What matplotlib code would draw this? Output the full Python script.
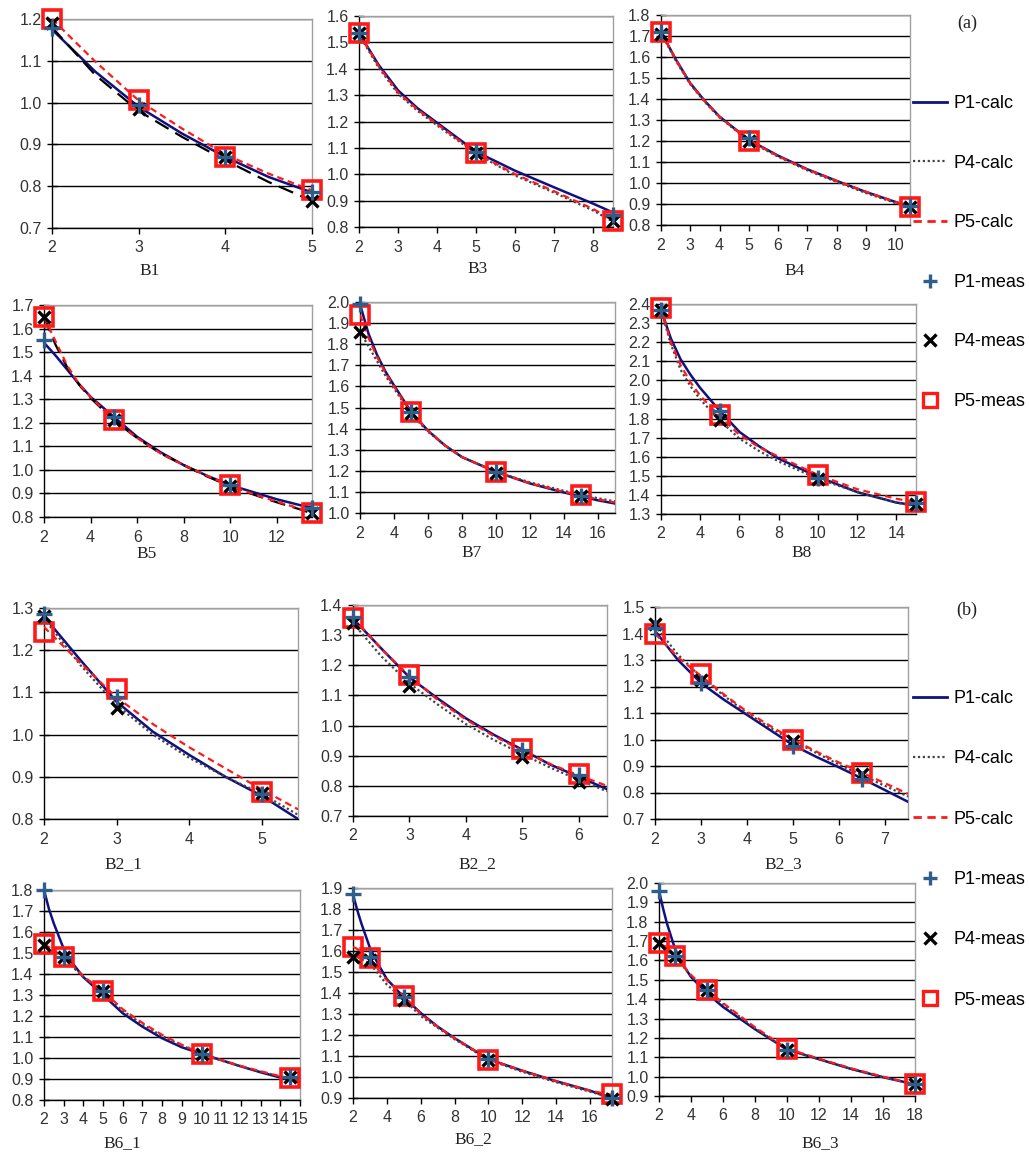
import matplotlib
matplotlib.use("Agg")
import matplotlib.pyplot as plt
from matplotlib.ticker import FormatStrFormatter
from matplotlib.lines import Line2D

# ---------------- data ----------------
# B1
B1_x_meas = [2, 3, 4, 5]
B1_P1_meas = [1.178, 0.995, 0.870, 0.785]
B1_P4_meas = [1.190, 0.985, 0.870, 0.765]
B1_P5_meas = [1.199, 1.006, 0.870, 0.792]
B1_x_calc = [2, 2.5, 3, 3.5, 4, 4.5, 5]
B1_P1_calc = [1.175, 1.074, 0.990, 0.926, 0.870, 0.822, 0.785]
B1_P4_calc = [1.180, 1.066, 0.980, 0.918, 0.862, 0.810, 0.765]
B1_P5_calc = [1.200, 1.098, 1.005, 0.938, 0.876, 0.830, 0.790]

# B3
B3_x_meas = [2, 5, 8.5]
B3_P1_meas = [1.535, 1.085, 0.845]
B3_P4_meas = [1.534, 1.082, 0.823]
B3_P5_meas = [1.534, 1.082, 0.823]
B3_x_calc = [2, 2.5, 3, 3.5, 4, 5, 6, 7, 8, 8.5]
B3_P1_calc = [1.535, 1.415, 1.318, 1.250, 1.195, 1.085, 1.013, 0.950, 0.888, 0.855]
B3_P4_calc = [1.530, 1.405, 1.305, 1.240, 1.185, 1.078, 0.995, 0.930, 0.862, 0.820]
B3_P5_calc = [1.535, 1.410, 1.310, 1.245, 1.190, 1.080, 1.000, 0.935, 0.868, 0.825]

# B4
B4_x_meas = [2, 5, 10.5]
B4_P1_meas = [1.720, 1.215, 0.890]
B4_P4_meas = [1.710, 1.200, 0.885]
B4_P5_meas = [1.720, 1.202, 0.887]
B4_x_calc = [2, 2.5, 3, 3.5, 4, 5, 6, 7, 8, 9, 10, 10.5]
B4_P1_calc = [1.720, 1.590, 1.475, 1.390, 1.316, 1.205, 1.130, 1.065, 1.010, 0.957, 0.910, 0.888]
B4_P4_calc = [1.715, 1.584, 1.470, 1.385, 1.312, 1.200, 1.125, 1.060, 1.005, 0.952, 0.905, 0.883]
B4_P5_calc = [1.720, 1.588, 1.473, 1.388, 1.315, 1.203, 1.128, 1.064, 1.010, 0.958, 0.910, 0.887]

# B5
B5_x_meas = [2, 5, 10, 13.5]
B5_P1_meas = [1.550, 1.225, 0.935, 0.840]
B5_P4_meas = [1.650, 1.210, 0.930, 0.815]
B5_P5_meas = [1.650, 1.210, 0.935, 0.818]
B5_x_calc = [2, 2.5, 3, 3.5, 4, 5, 6, 7, 8, 9, 10, 11, 12, 13, 13.5]
B5_P1_calc = [1.540, 1.485, 1.425, 1.365, 1.310, 1.225, 1.140, 1.075, 1.020, 0.975, 0.935, 0.905, 0.875, 0.850, 0.840]
B5_P4_calc = [1.650, 1.530, 1.435, 1.362, 1.305, 1.210, 1.135, 1.070, 1.020, 0.972, 0.930, 0.895, 0.862, 0.832, 0.815]
B5_P5_calc = [1.650, 1.545, 1.442, 1.365, 1.310, 1.210, 1.135, 1.070, 1.020, 0.975, 0.932, 0.897, 0.865, 0.835, 0.820]

# B7
B7_x_meas = [2, 5, 10, 15]
B7_P1_meas = [1.990, 1.480, 1.195, 1.080]
B7_P4_meas = [1.860, 1.475, 1.190, 1.080]
B7_P5_meas = [1.940, 1.478, 1.195, 1.083]
B7_x_calc = [2, 2.5, 3, 3.5, 4, 5, 6, 7, 8, 10, 12, 14, 16, 17]
B7_P1_calc = [1.990, 1.850, 1.750, 1.670, 1.605, 1.480, 1.390, 1.320, 1.265, 1.195, 1.140, 1.097, 1.060, 1.045]
B7_P4_calc = [1.860, 1.790, 1.720, 1.650, 1.590, 1.470, 1.385, 1.320, 1.265, 1.195, 1.145, 1.105, 1.070, 1.055]
B7_P5_calc = [1.940, 1.830, 1.740, 1.665, 1.600, 1.475, 1.390, 1.320, 1.265, 1.195, 1.140, 1.100, 1.065, 1.050]

# B8
B8_x_meas = [2, 5, 10, 15]
B8_P1_meas = [2.370, 1.840, 1.490, 1.355]
B8_P4_meas = [2.370, 1.790, 1.485, 1.350]
B8_P5_meas = [2.380, 1.820, 1.503, 1.363]
B8_x_calc = [2, 2.5, 3, 3.5, 4, 5, 6, 7, 8, 10, 12, 14, 15]
B8_P1_calc = [2.370, 2.220, 2.110, 2.030, 1.960, 1.840, 1.730, 1.655, 1.590, 1.495, 1.415, 1.360, 1.345]
B8_P4_calc = [2.370, 2.190, 2.055, 1.970, 1.900, 1.790, 1.695, 1.630, 1.575, 1.485, 1.415, 1.360, 1.340]
B8_P5_calc = [2.380, 2.200, 2.080, 1.990, 1.920, 1.810, 1.715, 1.650, 1.600, 1.505, 1.430, 1.380, 1.360]

# B2_1
B2_1_x_meas = [2, 3, 5]
B2_1_P1_meas = [1.285, 1.089, 0.860]
B2_1_P4_meas = [1.282, 1.063, 0.862]
B2_1_P5_meas = [1.243, 1.108, 0.865]
B2_1_x_calc = [2, 2.5, 3, 3.5, 4, 4.5, 5, 5.5]
B2_1_P1_calc = [1.280, 1.177, 1.078, 1.007, 0.952, 0.900, 0.855, 0.800]
B2_1_P4_calc = [1.275, 1.165, 1.070, 1.000, 0.945, 0.900, 0.860, 0.810]
B2_1_P5_calc = [1.255, 1.170, 1.088, 1.025, 0.970, 0.920, 0.870, 0.823]

# B2_2
B2_2_x_meas = [2, 3, 5, 6]
B2_2_P1_meas = [1.360, 1.162, 0.920, 0.835]
B2_2_P4_meas = [1.339, 1.130, 0.897, 0.814]
B2_2_P5_meas = [1.358, 1.168, 0.922, 0.839]
B2_2_x_calc = [2, 2.5, 3, 3.5, 4, 4.5, 5, 5.5, 6, 6.5]
B2_2_P1_calc = [1.355, 1.256, 1.160, 1.090, 1.024, 0.969, 0.920, 0.870, 0.830, 0.789]
B2_2_P4_calc = [1.340, 1.230, 1.140, 1.070, 1.005, 0.952, 0.905, 0.860, 0.820, 0.782]
B2_2_P5_calc = [1.358, 1.255, 1.165, 1.085, 1.020, 0.965, 0.917, 0.872, 0.835, 0.800]

# B2_3
B2_3_x_meas = [2, 3, 5, 6.5]
B2_3_P1_meas = [1.420, 1.215, 0.975, 0.850]
B2_3_P4_meas = [1.434, 1.225, 0.995, 0.868]
B2_3_P5_meas = [1.400, 1.248, 1.000, 0.875]
B2_3_x_calc = [2, 2.5, 3, 3.5, 4, 4.5, 5, 5.5, 6, 6.5, 7, 7.5]
B2_3_P1_calc = [1.410, 1.300, 1.213, 1.150, 1.093, 1.036, 0.979, 0.935, 0.895, 0.853, 0.809, 0.765]
B2_3_P4_calc = [1.430, 1.320, 1.235, 1.165, 1.100, 1.045, 0.995, 0.950, 0.905, 0.865, 0.825, 0.785]
B2_3_P5_calc = [1.400, 1.310, 1.240, 1.170, 1.105, 1.052, 1.000, 0.955, 0.913, 0.875, 0.835, 0.795]

# B6_1
B6_1_x_meas = [2, 3, 5, 10, 14.5]
B6_1_P1_meas = [1.800, 1.480, 1.320, 1.020, 0.910]
B6_1_P4_meas = [1.540, 1.480, 1.320, 1.020, 0.910]
B6_1_P5_meas = [1.543, 1.482, 1.319, 1.017, 0.906]
B6_1_x_calc = [2, 2.25, 2.5, 3, 3.5, 4, 5, 6, 7, 8, 9, 10, 11, 12, 13, 14, 15]
B6_1_P1_calc = [1.800, 1.710, 1.640, 1.520, 1.445, 1.385, 1.300, 1.213, 1.149, 1.094, 1.051, 1.020, 0.990, 0.960, 0.932, 0.907, 0.887]
B6_1_P4_calc = [1.540, 1.525, 1.510, 1.475, 1.430, 1.385, 1.310, 1.225, 1.160, 1.105, 1.060, 1.020, 0.988, 0.960, 0.935, 0.912, 0.890]
B6_1_P5_calc = [1.543, 1.528, 1.512, 1.480, 1.435, 1.390, 1.318, 1.232, 1.167, 1.110, 1.063, 1.020, 0.990, 0.962, 0.937, 0.913, 0.892]

# B6_2
B6_2_x_meas = [2, 3, 5, 10, 17.3]
B6_2_P1_meas = [1.870, 1.570, 1.380, 1.085, 0.900]
B6_2_P4_meas = [1.571, 1.555, 1.365, 1.082, 0.895]
B6_2_P5_meas = [1.620, 1.568, 1.385, 1.082, 0.917]
B6_2_x_calc = [2, 2.25, 2.5, 3, 3.5, 4, 5, 6, 7, 8, 10, 12, 14, 16, 17.3]
B6_2_P1_calc = [1.870, 1.795, 1.730, 1.615, 1.535, 1.466, 1.380, 1.305, 1.240, 1.185, 1.085, 1.030, 0.980, 0.935, 0.900]
B6_2_P4_calc = [1.580, 1.572, 1.560, 1.540, 1.490, 1.440, 1.370, 1.290, 1.235, 1.180, 1.082, 1.025, 0.975, 0.930, 0.900]
B6_2_P5_calc = [1.620, 1.610, 1.595, 1.560, 1.510, 1.460, 1.385, 1.300, 1.240, 1.185, 1.085, 1.030, 0.980, 0.935, 0.915]

# B6_3
B6_3_x_meas = [2, 3, 5, 10, 18]
B6_3_P1_meas = [1.960, 1.625, 1.450, 1.140, 0.960]
B6_3_P4_meas = [1.690, 1.625, 1.450, 1.140, 0.960]
B6_3_P5_meas = [1.690, 1.625, 1.448, 1.141, 0.960]
B6_3_x_calc = [2, 2.25, 2.5, 3, 3.5, 4, 5, 6, 8, 10, 12, 14, 16, 18]
B6_3_P1_calc = [1.960, 1.870, 1.790, 1.660, 1.578, 1.515, 1.430, 1.360, 1.245, 1.140, 1.090, 1.040, 0.997, 0.960]
B6_3_P4_calc = [1.690, 1.676, 1.660, 1.620, 1.570, 1.520, 1.450, 1.375, 1.250, 1.140, 1.090, 1.040, 0.997, 0.960]
B6_3_P5_calc = [1.690, 1.678, 1.665, 1.625, 1.575, 1.525, 1.450, 1.380, 1.255, 1.145, 1.093, 1.043, 1.000, 0.960]

# axis ranges and tick labels
B1_xticks = [2, 3, 4, 5];            B1_yticks = [0.7, 0.8, 0.9, 1.0, 1.1, 1.2]
B3_xticks = [2, 3, 4, 5, 6, 7, 8];   B3_yticks = [0.8, 0.9, 1.0, 1.1, 1.2, 1.3, 1.4, 1.5, 1.6]
B4_xticks = [2, 3, 4, 5, 6, 7, 8, 9, 10]; B4_yticks = [0.8, 0.9, 1.0, 1.1, 1.2, 1.3, 1.4, 1.5, 1.6, 1.7, 1.8]
B5_xticks = [2, 4, 6, 8, 10, 12];    B5_yticks = [0.8, 0.9, 1.0, 1.1, 1.2, 1.3, 1.4, 1.5, 1.6, 1.7]
B7_xticks = [2, 4, 6, 8, 10, 12, 14, 16]; B7_yticks = [1.0, 1.1, 1.2, 1.3, 1.4, 1.5, 1.6, 1.7, 1.8, 1.9, 2.0]
B8_xticks = [2, 4, 6, 8, 10, 12, 14]; B8_yticks = [1.3, 1.4, 1.5, 1.6, 1.7, 1.8, 1.9, 2.0, 2.1, 2.2, 2.3, 2.4]
B2_1_xticks = [2, 3, 4, 5];          B2_1_yticks = [0.8, 0.9, 1.0, 1.1, 1.2, 1.3]
B2_2_xticks = [2, 3, 4, 5, 6];       B2_2_yticks = [0.7, 0.8, 0.9, 1.0, 1.1, 1.2, 1.3, 1.4]
B2_3_xticks = [2, 3, 4, 5, 6, 7];    B2_3_yticks = [0.7, 0.8, 0.9, 1.0, 1.1, 1.2, 1.3, 1.4, 1.5]
B6_1_xticks = list(range(2, 16));    B6_1_yticks = [0.8, 0.9, 1.0, 1.1, 1.2, 1.3, 1.4, 1.5, 1.6, 1.7, 1.8]
B6_2_xticks = [2, 4, 6, 8, 10, 12, 14, 16]; B6_2_yticks = [0.9, 1.0, 1.1, 1.2, 1.3, 1.4, 1.5, 1.6, 1.7, 1.8, 1.9]
B6_3_xticks = [2, 4, 6, 8, 10, 12, 14, 16, 18]; B6_3_yticks = [0.9, 1.0, 1.1, 1.2, 1.3, 1.4, 1.5, 1.6, 1.7, 1.8, 1.9, 2.0]

B1_xmax, B3_xmax, B4_xmax = 5, 8.5, 10.5
B5_xmax, B7_xmax, B8_xmax = 13.5, 17, 15
B2_1_xmax, B2_2_xmax, B2_3_xmax = 5.5, 6.5, 7.5
B6_1_xmax, B6_2_xmax, B6_3_xmax = 15, 17.3, 18

series_labels = ["P1-calc", "P4-calc", "P5-calc", "P1-meas", "P4-meas", "P5-meas"]

# ---------------- layout (pixel boxes: left, right, top, bottom) ----------------
W, H = 1029, 1152
panels = [
    ("B1", (52, 312, 19, 228), (150, 271), B1_x_meas, B1_P1_meas, B1_P4_meas, B1_P5_meas,
     B1_x_calc, B1_P1_calc, B1_P4_calc, B1_P5_calc, B1_xticks, B1_yticks, B1_xmax, "dash"),
    ("B3", (359, 613, 16, 227), (478, 269), B3_x_meas, B3_P1_meas, B3_P4_meas, B3_P5_meas,
     B3_x_calc, B3_P1_calc, B3_P4_calc, B3_P5_calc, B3_xticks, B3_yticks, B3_xmax, "dot"),
    ("B4", (661, 910, 15, 225), (795, 271), B4_x_meas, B4_P1_meas, B4_P4_meas, B4_P5_meas,
     B4_x_calc, B4_P1_calc, B4_P4_calc, B4_P5_calc, B4_xticks, B4_yticks, B4_xmax, "dot"),
    ("B5", (44, 312, 305, 517), (147, 554), B5_x_meas, B5_P1_meas, B5_P4_meas, B5_P5_meas,
     B5_x_calc, B5_P1_calc, B5_P4_calc, B5_P5_calc, B5_xticks, B5_yticks, B5_xmax, "dash"),
    ("B7", (360, 615, 302, 513), (472, 553), B7_x_meas, B7_P1_meas, B7_P4_meas, B7_P5_meas,
     B7_x_calc, B7_P1_calc, B7_P4_calc, B7_P5_calc, B7_xticks, B7_yticks, B7_xmax, "dot"),
    ("B8", (661, 916, 304, 514), (802, 553), B8_x_meas, B8_P1_meas, B8_P4_meas, B8_P5_meas,
     B8_x_calc, B8_P1_calc, B8_P4_calc, B8_P5_calc, B8_xticks, B8_yticks, B8_xmax, "dot"),
    ("B2_1", (44, 298, 608, 819), (123, 864), B2_1_x_meas, B2_1_P1_meas, B2_1_P4_meas, B2_1_P5_meas,
     B2_1_x_calc, B2_1_P1_calc, B2_1_P4_calc, B2_1_P5_calc, B2_1_xticks, B2_1_yticks, B2_1_xmax, "dot"),
    ("B2_2", (353, 607, 605, 816), (477, 864), B2_2_x_meas, B2_2_P1_meas, B2_2_P4_meas, B2_2_P5_meas,
     B2_2_x_calc, B2_2_P1_calc, B2_2_P4_calc, B2_2_P5_calc, B2_2_xticks, B2_2_yticks, B2_2_xmax, "dot"),
    ("B2_3", (655, 908, 607, 819), (783, 864), B2_3_x_meas, B2_3_P1_meas, B2_3_P4_meas, B2_3_P5_meas,
     B2_3_x_calc, B2_3_P1_calc, B2_3_P4_calc, B2_3_P5_calc, B2_3_xticks, B2_3_yticks, B2_3_xmax, "dot"),
    ("B6_1", (44, 300, 890, 1100), (122, 1143), B6_1_x_meas, B6_1_P1_meas, B6_1_P4_meas, B6_1_P5_meas,
     B6_1_x_calc, B6_1_P1_calc, B6_1_P4_calc, B6_1_P5_calc, B6_1_xticks, B6_1_yticks, B6_1_xmax, "dot"),
    ("B6_2", (353, 612, 888, 1098), (473, 1139), B6_2_x_meas, B6_2_P1_meas, B6_2_P4_meas, B6_2_P5_meas,
     B6_2_x_calc, B6_2_P1_calc, B6_2_P4_calc, B6_2_P5_calc, B6_2_xticks, B6_2_yticks, B6_2_xmax, "dot"),
    ("B6_3", (659, 915, 883, 1096), (820, 1143), B6_3_x_meas, B6_3_P1_meas, B6_3_P4_meas, B6_3_P5_meas,
     B6_3_x_calc, B6_3_P1_calc, B6_3_P4_calc, B6_3_P5_calc, B6_3_xticks, B6_3_yticks, B6_3_xmax, "dot"),
]

NAVY = "#10107f"
PLUS = "#2f5d8c"
RED = "#ff1a1a"
TICKC = "#333333"
SANS = ["Liberation Sans", "DejaVu Sans"]
SERIF = ["Liberation Serif", "DejaVu Serif"]

fig = plt.figure(figsize=(W / 100, H / 100), dpi=100)
fig.patch.set_facecolor("white")


def styled(kind):
    if kind == "dash":
        return dict(color="black", lw=1.6, linestyle=(0, (7, 3.5)))
    return dict(color="#444444", lw=1.6, linestyle=(0, (1, 1.2)))


for (name, box, lab, xm, p1m, p4m, p5m, xc, p1c, p4c, p5c, xt, yt, xmax, p4style) in panels:
    l, r, t, b = box
    ax = fig.add_axes([l / W, 1 - b / H, (r - l) / W, (b - t) / H])
    ax.set_xlim(2, xmax)
    ax.set_ylim(yt[0], yt[-1])
    ax.set_xticks(xt)
    ax.set_yticks(yt)
    ax.yaxis.set_major_formatter(FormatStrFormatter("%.1f"))
    ax.set_axisbelow(True)
    ax.grid(axis="y", color="black", lw=1.0)
    for s in ("top", "right"):
        ax.spines[s].set_color("#a0a0a0")
        ax.spines[s].set_linewidth(1.0)
    for s in ("left", "bottom"):
        ax.spines[s].set_color("black")
        ax.spines[s].set_linewidth(1.0)
    ax.tick_params(axis="y", direction="inout", length=7, width=1, colors="black",
                   labelcolor=TICKC, labelsize=11.5, pad=4)
    ax.tick_params(axis="x", direction="out", length=4, width=1, colors="black",
                   labelcolor=TICKC, labelsize=11.5, pad=5)
    for lbl in ax.get_xticklabels() + ax.get_yticklabels():
        lbl.set_fontfamily(SANS)

    ax.plot(xc, p1c, color=NAVY, lw=1.8, zorder=3)
    ax.plot(xc, p4c, zorder=3, **styled(p4style))
    ax.plot(xc, p5c, color=RED, lw=1.6, linestyle=(0, (3, 2)), zorder=3)

    ax.plot(xm, p5m, linestyle="none", marker="s", ms=12.5, mfc="none", mec=RED,
            mew=2.6, zorder=4, clip_on=False)
    ax.plot(xm, p4m, linestyle="none", marker="x", ms=9, color="black",
            mew=2.4, zorder=5, clip_on=False)
    ax.plot(xm, p1m, linestyle="none", marker="+", ms=11, color=PLUS,
            mew=2.4, zorder=6, clip_on=False)

    fig.text(lab[0] / W, 1 - lab[1] / H, name, ha="center", va="center",
             fontsize=12.5, family=SERIF, color="#222222")

# legends
handles = [
    Line2D([], [], color=NAVY, lw=2.0),
    Line2D([], [], color="#444444", lw=1.6, linestyle=(0, (1, 1.2))),
    Line2D([], [], color=RED, lw=2.0, linestyle=(0, (3, 2))),
    Line2D([], [], linestyle="none", marker="+", ms=10, color=PLUS, mew=2.4),
    Line2D([], [], linestyle="none", marker="x", ms=8, color="black", mew=2.4),
    Line2D([], [], linestyle="none", marker="s", ms=10, mfc="none", mec=RED, mew=2.4),
]
for top_px, spacing in ((95, 2.36), (690, 2.40)):
    fig.legend(handles, series_labels, loc="upper left",
               bbox_to_anchor=(913 / W, 1 - top_px / H), frameon=False,
               borderpad=0, borderaxespad=0, labelspacing=spacing, handlelength=1.9,
               handletextpad=0.35, prop={"family": SANS, "size": 13})

fig.text(967 / W, 1 - 23 / H, "(a)", ha="center", va="center", fontsize=13,
         family=SERIF, color="#222222")
fig.text(967 / W, 1 - 610 / H, "(b)", ha="center", va="center", fontsize=13,
         family=SERIF, color="#222222")

fig.savefig("out.png", dpi=100, facecolor="white")
